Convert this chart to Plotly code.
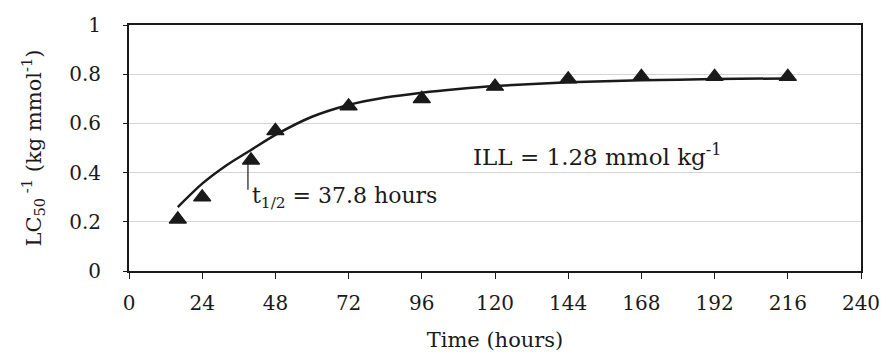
import plotly.graph_objects as go

# Observed reciprocal LC50 values over exposure time
hours = [16, 24, 40, 48, 72, 96, 120, 144, 168, 192, 216]
inv_lc50 = [0.21, 0.30, 0.45, 0.57, 0.67, 0.70, 0.75, 0.78, 0.79, 0.79, 0.79]

# Fitted time-course curve
fit_hours = [16, 24, 32, 40, 48, 60, 72, 84, 96, 108, 120, 144, 168, 192, 216]
fit_vals = [0.26, 0.355, 0.43, 0.492, 0.553, 0.627, 0.675, 0.705, 0.725,
            0.740, 0.752, 0.767, 0.775, 0.780, 0.783]

x_ticks = [0, 24, 48, 72, 96, 120, 144, 168, 192, 216, 240]
y_ticks = [0, 0.2, 0.4, 0.6, 0.8, 1]

half_life_hours = 39
FONT = "DejaVu Serif"
INK = "#1a1a1a"

fig = go.Figure()

fig.add_trace(go.Scatter(
    x=fit_hours, y=fit_vals, mode="lines",
    line=dict(color=INK, width=2.5, shape="spline", smoothing=0.7),
    showlegend=False, hoverinfo="skip",
))

fig.add_trace(go.Scatter(
    x=hours, y=inv_lc50, mode="markers",
    marker=dict(symbol="triangle-up", size=15, color=INK,
                line=dict(color=INK, width=1.2)),
    showlegend=False,
))

# Pointer from the half-life label up to the curve
fig.add_shape(type="line", x0=half_life_hours, x1=half_life_hours,
              y0=0.33, y1=0.44, xref="x", yref="y",
              line=dict(color=INK, width=1.2))

fig.add_annotation(
    x=half_life_hours + 0.8, y=0.30, xref="x", yref="y",
    text="t<sub>1/2</sub> = 37.8 hours", showarrow=False,
    xanchor="left", yanchor="middle",
    font=dict(family=FONT, size=22, color=INK),
)

fig.add_annotation(
    x=112, y=0.47, xref="x", yref="y",
    text="ILL = 1.28 mmol kg<sup>-1</sup>", showarrow=False,
    xanchor="left", yanchor="middle",
    font=dict(family=FONT, size=23, color=INK),
)

fig.update_layout(
    width=892, height=362,
    margin=dict(l=129, r=22, t=25, b=91),
    paper_bgcolor="white", plot_bgcolor="white",
    font=dict(family=FONT, color=INK, size=20),
)

fig.update_xaxes(
    range=[0, 240], tickmode="array", tickvals=x_ticks,
    ticktext=[str(v) for v in x_ticks],
    showline=True, linecolor=INK, linewidth=2, mirror=True,
    ticks="outside", ticklen=6, tickcolor=INK, tickwidth=1,
    showgrid=False, zeroline=False,
    tickfont=dict(family=FONT, size=20, color=INK),
    ticklabelstandoff=7,
    title=dict(text="Time (hours)", font=dict(family=FONT, size=21, color=INK),
               standoff=18),
)

fig.update_yaxes(
    range=[0, 1], tickmode="array", tickvals=y_ticks,
    ticktext=["0", "0.2", "0.4", "0.6", "0.8", "1"],
    showline=True, linecolor=INK, linewidth=2, mirror=True,
    ticks="outside", ticklen=4, tickcolor=INK, tickwidth=1,
    showgrid=True, gridcolor="#d4d4d4", gridwidth=1, zeroline=False,
    tickfont=dict(family=FONT, size=20, color=INK),
    ticklabelstandoff=18,
    title=dict(text="LC<sub>50</sub><sup> -1</sup> (kg mmol<sup>-1</sup>)",
               font=dict(family=FONT, size=21, color=INK), standoff=22),
)

fig.write_html("out.html")
